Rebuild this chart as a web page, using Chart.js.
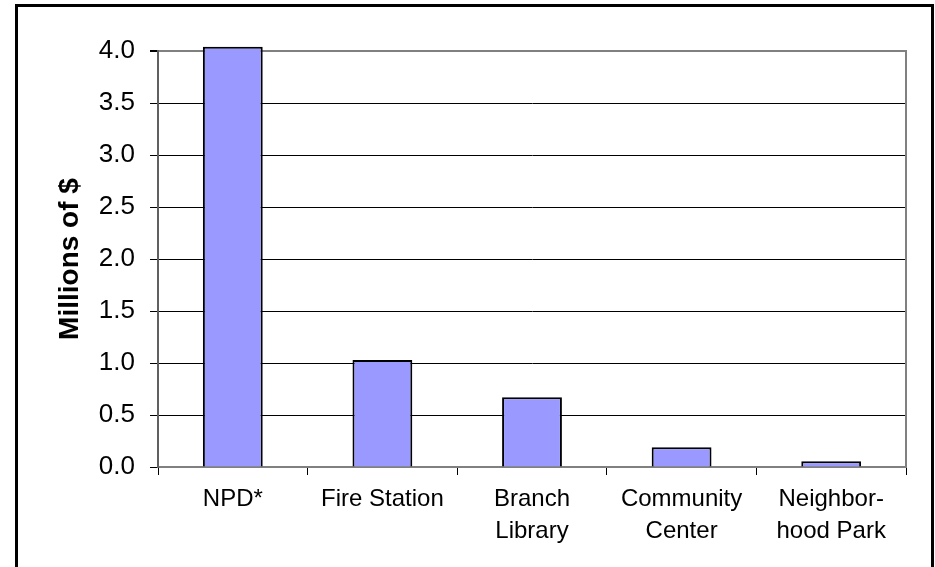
<!DOCTYPE html>
<html lang="en">
<head>
    <meta charset="UTF-8">
    <title>Millions of $</title>
    <script src="https://cdn.jsdelivr.net/npm/chart.js"></script>
    <style>
        html, body { margin: 0; padding: 0; background: #fff; }
        .wrap { position: absolute; left: 0; top: 0; width: 935px; height: 567px; overflow: hidden; }
        .frame { position: absolute; left: 15px; top: 4px; width: 913px; height: 700px; border: 3px solid #000; pointer-events: none; }
        canvas { position: absolute; left: 0; top: 0; }
    </style>
</head>
<body>
    <div class="wrap">
        <canvas id="chart" width="935" height="567"></canvas>
        <div class="frame"></div>
    </div>

    <script>
        // chart data
        const categories = ['NPD*', 'Fire Station', ['Branch', 'Library'], ['Community', 'Center'], ['Neighbor-', 'hood Park']];
        const costs = [4.04, 1.03, 0.67, 0.19, 0.055];
        const yTicks = [0, 0.5, 1, 1.5, 2, 2.5, 3, 3.5, 4];

        // grey right edge of the plot area
        const plotEdge = {
            id: 'plotEdge',
            beforeDatasetsDraw(chart) {
                const a = chart.chartArea, c = chart.ctx;
                c.save();
                c.strokeStyle = '#808080';
                c.lineWidth = 2;
                c.beginPath();
                c.moveTo(a.right, a.top - 1);
                c.lineTo(a.right, a.bottom);
                c.stroke();
                c.restore();
            }
        };

        new Chart(document.getElementById('chart'), {
            type: 'bar',
            data: {
                labels: categories,
                datasets: [{
                    data: costs,
                    backgroundColor: '#9999ff',
                    borderColor: '#000',
                    borderWidth: 2,
                    barPercentage: 0.4,
                    categoryPercentage: 1,
                    clip: false
                }]
            },
            options: {
                responsive: false,
                animation: false,
                layout: { padding: { left: 40, top: 51, right: 29, bottom: 0 } },
                plugins: { legend: { display: false }, tooltip: { enabled: false } },
                scales: {
                    x: {
                        afterFit(s) { s.height = 100; },
                        grid: { offset: true, drawOnChartArea: false, tickLength: 8, color: '#000', lineWidth: 1 },
                        border: { color: '#808080', width: 2 },
                        ticks: {
                            color: '#000', padding: 8, maxRotation: 0, autoSkip: false,
                            font: { family: 'Liberation Sans, Arial', size: 24, lineHeight: 1.35 }
                        }
                    },
                    y: {
                        min: 0, max: 4,
                        afterFit(s) { s.width = 118; },
                        afterBuildTicks(s) { s.ticks = yTicks.map(v => ({ value: v })); },
                        grid: {
                            tickLength: 8,
                            tickColor: '#000',
                            color: c => (c.tick && c.tick.value === 4) ? '#808080' : '#000',
                            lineWidth: c => (c.tick && c.tick.value === 4) ? 2 : 1
                        },
                        border: { color: '#606060', width: 2 },
                        ticks: {
                            color: '#000', padding: 15,
                            callback: v => Number(v).toFixed(1),
                            font: { family: 'Liberation Sans, Arial', size: 26 }
                        },
                        title: {
                            display: true, text: 'Millions of $', color: '#000',
                            padding: { top: 13, bottom: 0 },
                            font: { family: 'Liberation Sans, Arial', size: 28, weight: 'bold', lineHeight: 1.2 }
                        }
                    }
                }
            },
            plugins: [plotEdge]
        });
    </script>
</body>
</html>
